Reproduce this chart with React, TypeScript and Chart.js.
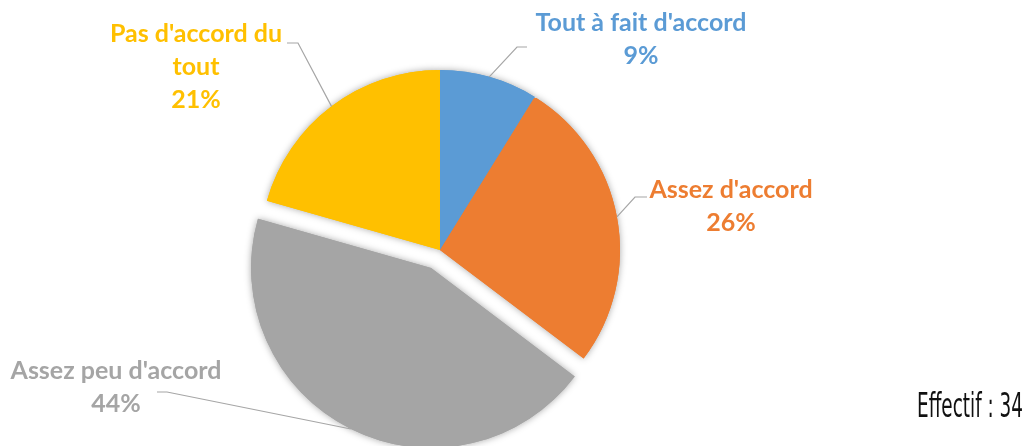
import { useEffect, useRef } from "react";
import { Chart, registerables } from "chart.js";

Chart.register(...registerables);

// ---- data ----
const categories = ["Tout à fait d'accord", "Assez d'accord", "Assez peu d'accord", "Pas d'accord du tout"];
const counts = [3, 9, 15, 7];
const totalLabel = "Effectif : 34";

// ---- styles / layout ----
const sliceColors = ["#5B9BD5", "#ED7D31", "#A5A5A5", "#FFC000"];
const labelLines = [["Tout à fait d'accord"], ["Assez d'accord"], ["Assez peu d'accord"], ["Pas d'accord du", "tout"]];
const explodeOffsets = [0, 0, 20, 0];
// text block centre x, first line centre y, elbow point, end point of leader line
const labelLayout = [
  { cx: 641, cy: 23, ex: 517, ey: 47, hx: 527 },
  { cx: 731, cy: 190, ex: 635, ey: 197, hx: 647 },
  { cx: 116, cy: 371, ex: 167, ey: 392, hx: 157 },
  { cx: 196, cy: 34, ex: 298, ey: 43, hx: 287 },
];
const LINE_H = 33;
const LABEL_FONT = "bold 25px Lato";

const explodePlugin = {
  id: "explode",
  afterDatasetUpdate(chart: any, args: any) {
    const meta = args.meta;
    meta.data.forEach((arc: any, i: number) => {
      const o = explodeOffsets[i] || 0;
      if (!o) return;
      const mid = (arc.startAngle + arc.endAngle) / 2;
      arc.x += Math.cos(mid) * o;
      arc.y += Math.sin(mid) * o;
    });
  },
};

const decorPlugin = {
  id: "decor",
  beforeDatasetsDraw(chart: any) {
    const ctx = chart.ctx;
    const meta = chart.getDatasetMeta(0);
    ctx.save();
    ctx.shadowColor = "rgba(0,0,0,0.35)";
    ctx.shadowBlur = 7;
    meta.data.forEach((a: any) => a.draw(ctx));
    ctx.restore();
  },
  afterDatasetsDraw(chart: any) {
    const ctx = chart.ctx;
    const meta = chart.getDatasetMeta(0);
    const total = counts.reduce((s, v) => s + v, 0);
    ctx.save();
    meta.data.forEach((arc: any, i: number) => {
      const mid = (arc.startAngle + arc.endAngle) / 2;
      const r = arc.outerRadius;
      const sx = arc.x + Math.cos(mid) * r;
      const sy = arc.y + Math.sin(mid) * r;
      const L = labelLayout[i];
      ctx.strokeStyle = "#A6A6A6";
      ctx.lineWidth = 1.2;
      ctx.beginPath();
      ctx.moveTo(sx, sy);
      ctx.lineTo(L.ex, L.ey);
      ctx.lineTo(L.hx, L.ey);
      ctx.stroke();
      const pct = Math.round((counts[i] / total) * 100) + "%";
      const lines = [...labelLines[i], pct];
      ctx.fillStyle = sliceColors[i];
      ctx.font = LABEL_FONT;
      ctx.textAlign = "center";
      ctx.textBaseline = "middle";
      lines.forEach((t, k) => ctx.fillText(t, L.cx, L.cy + k * LINE_H));
    });
    // Effectif
    ctx.font = "33px 'Liberation Sans Narrow', 'DejaVu Sans Condensed', sans-serif";
    const w = ctx.measureText(totalLabel).width;
    const target = 106;
    ctx.translate(1023, 417);
    ctx.scale(target / w, 1);
    ctx.fillStyle = "#111111";
    ctx.textAlign = "right";
    ctx.textBaseline = "alphabetic";
    ctx.fillText(totalLabel, 0, 0);
    ctx.restore();
  },
};

export default function App() {
  const ref = useRef<HTMLCanvasElement | null>(null);
  useEffect(() => {
    if (!ref.current) return;
    const chart = new Chart(ref.current, {
      type: "pie",
      data: {
        labels: categories,
        datasets: [
          {
            data: counts,
            backgroundColor: sliceColors,
            borderWidth: 0,
            radius: 180,
          } as any,
        ],
      },
      options: {
        responsive: false,
        animation: false,
        devicePixelRatio: 1,
        layout: { padding: { left: 0, right: 152, top: 54, bottom: 0 } },
        plugins: { legend: { display: false }, tooltip: { enabled: false } },
      } as any,
      plugins: [explodePlugin, decorPlugin],
    });
    return () => chart.destroy();
  }, []);
  return (
    <div style={{ position: "absolute", left: 0, top: 0, width: 1032, height: 446, background: "#fff" }}>
      <canvas ref={ref} width={1032} height={446} />
    </div>
  );
}
